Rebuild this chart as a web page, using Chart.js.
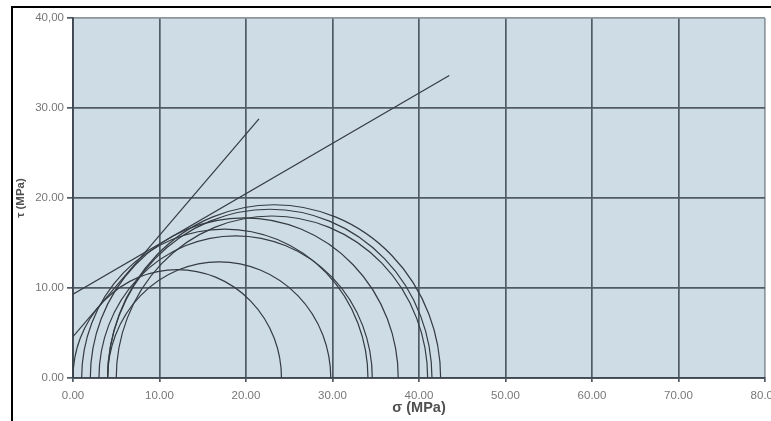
<!DOCTYPE html>
<html>
<head>
<meta charset="utf-8">
<script src="https://cdn.jsdelivr.net/npm/chart.js@4.4.1/dist/chart.umd.min.js"></script>
<style>
  html, body { margin: 0; padding: 0; background: #fff; overflow: hidden; }
  #frame {
    position: absolute; left: 11px; top: 6px; width: 900px; height: 600px;
    border-top: 2px solid #000; border-left: 2px solid #000;
  }
  #mohr { position: absolute; left: 0; top: 0; }
</style>
</head>
<body>
<div id="frame"></div>
<canvas id="mohr" width="800" height="421" style="width:800px;height:421px"></canvas>
<script>
// Mohr circles: minor / major principal stress of each test (MPa)
const sigma3 = [0, 4, 1, 3, 2, 5, 4, 4];
const sigma1 = [24.1, 29.8, 34.1, 34.6, 37.6, 41.0, 41.5, 42.5];

// failure envelopes (end points)
const envA_x = [0, 21.5];
const envA_y = [4.6, 28.8];
const envB_x = [0, 43.5];
const envB_y = [9.3, 33.6];

const xTickLabels = ['0.00', '10.00', '20.00', '30.00', '40.00', '50.00', '60.00', '70.00', '80.00'];
const yTickLabels = ['0.00', '10.00', '20.00', '30.00', '40,00'];

const COLORS = {
  plotBg: '#cedce5',
  grid: '#505b65',
  edge: '#8d969d',
  curve: '#343b42',
  tickText: '#777777',
  title: '#505050'
};

function toPoints(xs, ys) {
  return xs.map((x, i) => ({ x: x, y: ys[i] }));
}

const plotBackground = {
  id: 'plotBackground',
  beforeDraw(chart) {
    const { ctx, chartArea: a } = chart;
    ctx.save();
    ctx.fillStyle = COLORS.plotBg;
    ctx.fillRect(a.left, a.top, a.right - a.left, a.bottom - a.top);
    ctx.restore();
  }
};

// half circles drawn through the chart scales
const mohrCircles = {
  id: 'mohrCircles',
  afterDatasetsDraw(chart) {
    const { ctx, chartArea: a } = chart;
    const xs = chart.scales.x, ys = chart.scales.y;
    ctx.save();
    ctx.beginPath();
    ctx.rect(a.left, a.top, a.right - a.left, a.bottom - a.top);
    ctx.clip();
    ctx.strokeStyle = COLORS.curve;
    ctx.lineWidth = 1.2;
    sigma3.forEach((s3, i) => {
      const s1 = sigma1[i];
      const c = (s1 + s3) / 2;
      const r = (s1 - s3) / 2;
      const cx = xs.getPixelForValue(c);
      const cy = ys.getPixelForValue(0);
      const rx = xs.getPixelForValue(c + r) - cx;
      const ry = cy - ys.getPixelForValue(r);
      ctx.beginPath();
      ctx.ellipse(cx, cy, rx, ry, 0, Math.PI, 2 * Math.PI);
      ctx.stroke();
    });
    ctx.restore();
  }
};

new Chart(document.getElementById('mohr'), {
  type: 'scatter',
  data: {
    datasets: [
      {
        data: toPoints(envA_x, envA_y),
        showLine: true,
        borderColor: COLORS.curve,
        borderWidth: 1.2,
        pointRadius: 0
      },
      {
        data: toPoints(envB_x, envB_y),
        showLine: true,
        borderColor: COLORS.curve,
        borderWidth: 1.2,
        pointRadius: 0
      }
    ]
  },
  options: {
    responsive: false,
    animation: false,
    layout: { padding: { left: 0, top: 18, right: 35, bottom: 0 } },
    plugins: {
      legend: { display: false },
      tooltip: { enabled: false }
    },
    scales: {
      x: {
        type: 'linear',
        min: 0,
        max: 80,
        afterFit: s => { s.height = 43; },
        border: { display: true, color: '#3f4850', width: 1.8 },
        grid: {
          color: ctx => ctx.tick && ctx.tick.value === 80 ? COLORS.edge : COLORS.grid,
          lineWidth: 1.7,
          tickLength: 4,
          tickColor: COLORS.grid
        },
        ticks: {
          stepSize: 10,
          padding: 7,
          color: COLORS.tickText,
          font: { family: 'Liberation Sans', size: 11.5 },
          callback: (v, i) => xTickLabels[i]
        },
        title: {
          display: true,
          text: 'σ (MPa)',
          color: COLORS.title,
          font: { family: 'Liberation Sans', size: 14.5, weight: 'bold' },
          padding: { top: 0, bottom: 4.2 }
        }
      },
      y: {
        type: 'linear',
        min: 0,
        max: 40,
        afterFit: s => { s.width = 73; },
        border: { display: true, color: '#3f4850', width: 1.8 },
        grid: {
          color: ctx => ctx.tick && ctx.tick.value === 40 ? COLORS.edge : COLORS.grid,
          lineWidth: 1.7,
          tickLength: 6,
          tickColor: COLORS.grid
        },
        ticks: {
          stepSize: 10,
          padding: 3,
          color: COLORS.tickText,
          font: { family: 'Liberation Sans', size: 11.5 },
          callback: (v, i) => yTickLabels[i]
        },
        title: {
          display: true,
          text: 'τ (MPa)',
          color: COLORS.title,
          font: { family: 'Liberation Sans', size: 11.5, weight: 'bold' },
          padding: { top: 14, bottom: 0 }
        }
      }
    }
  },
  plugins: [plotBackground, mohrCircles]
});
</script>
</body>
</html>
